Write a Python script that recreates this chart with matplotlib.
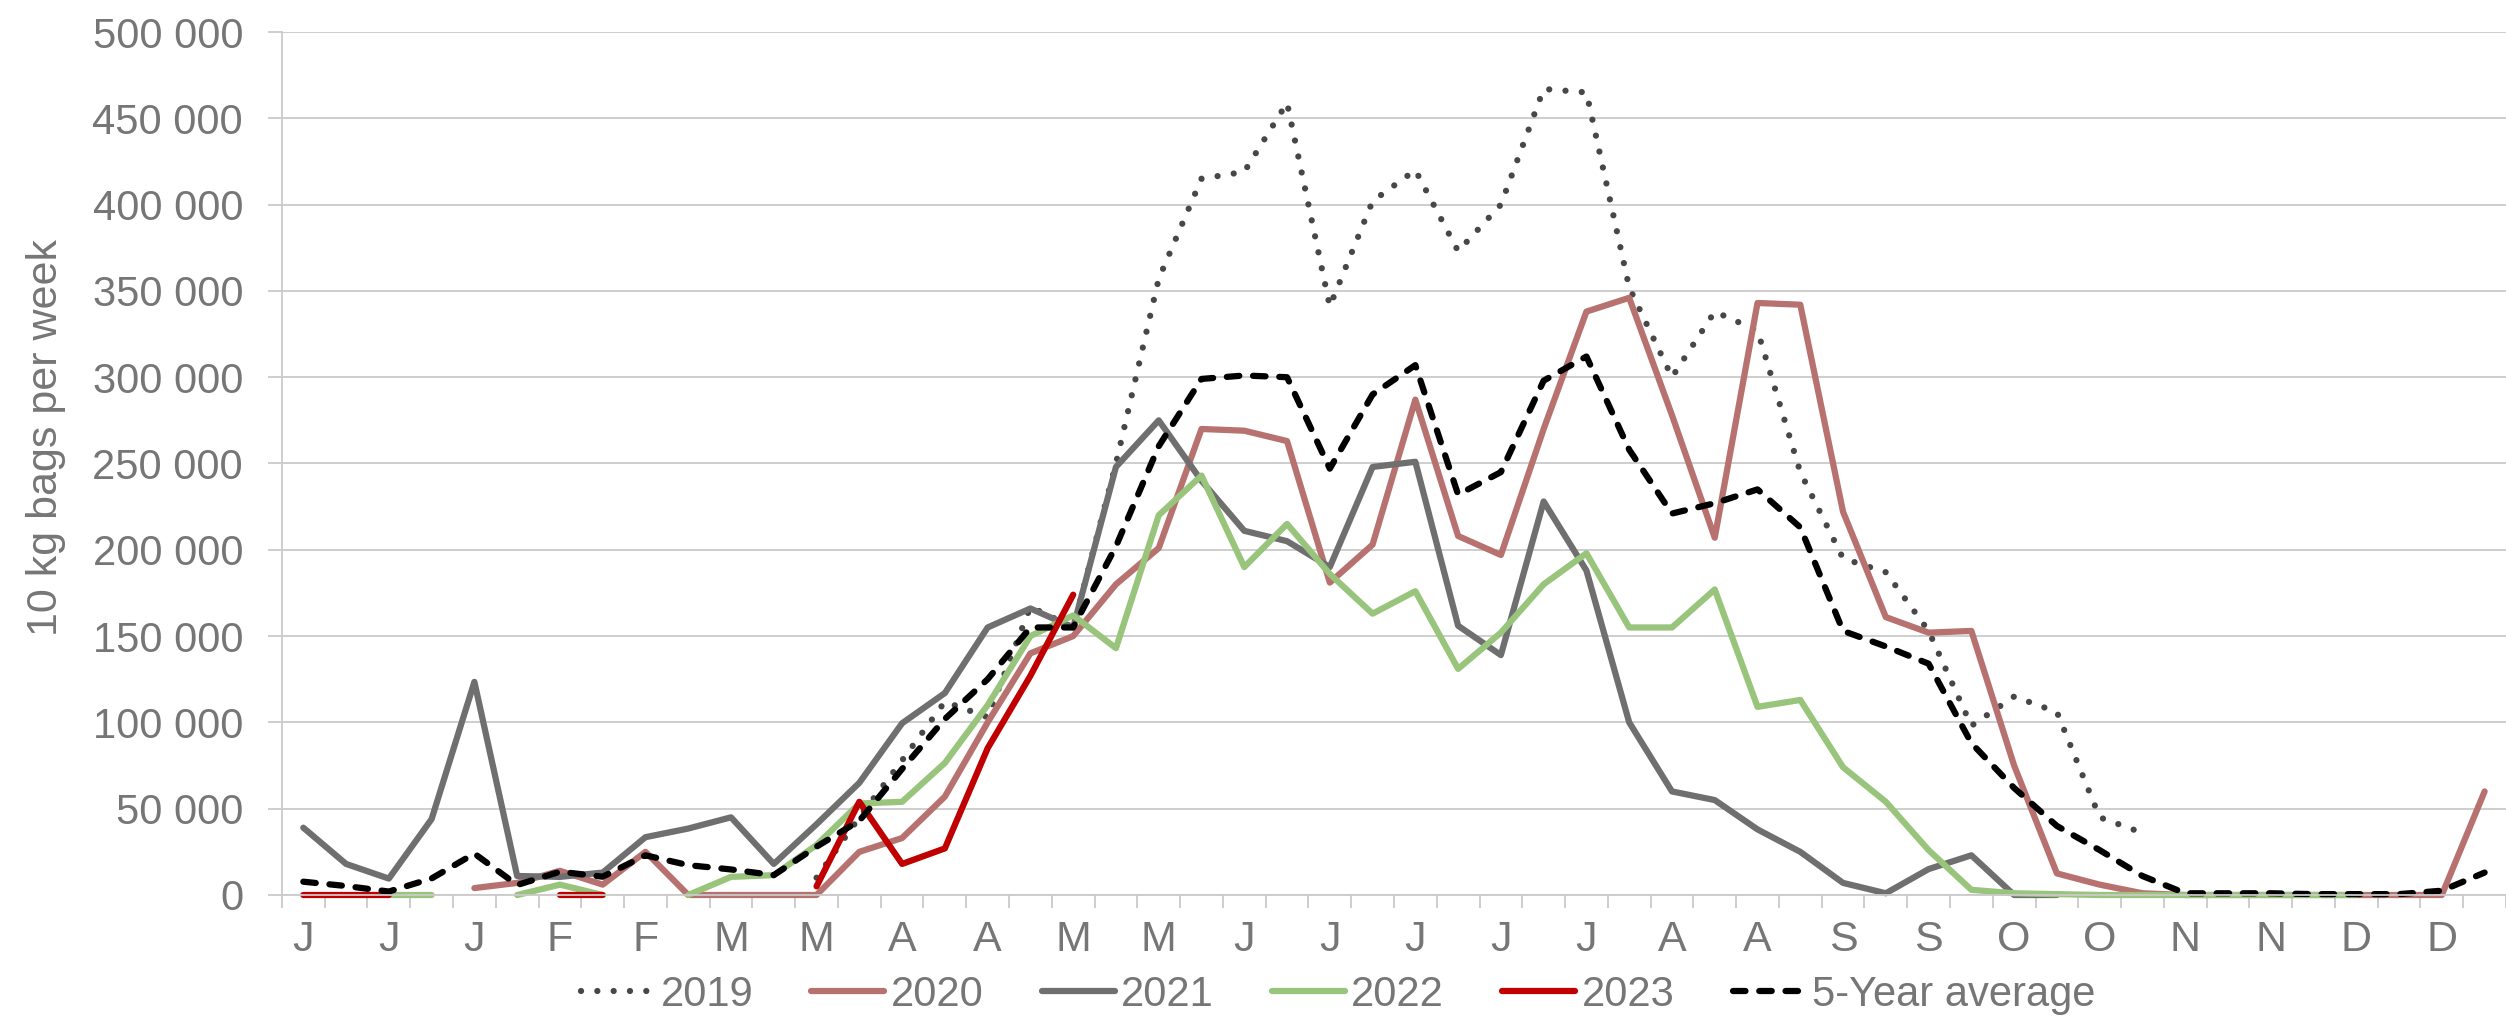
import numpy as np
import matplotlib
matplotlib.use("Agg")
import matplotlib.pyplot as plt
from matplotlib.ticker import FuncFormatter

plt.rcParams['font.family'] = ['Liberation Sans', 'DejaVu Sans']

# Week labels (first letter of the month, every second week)
week_labels = ['J', 'J', 'J', 'F', 'F', 'M', 'M', 'A', 'A', 'M', 'M', 'J', 'J',
               'J', 'J', 'J', 'A', 'A', 'S', 'S', 'O', 'O', 'N', 'N', 'D', 'D']

# Weekly volumes (10 kg bags), 52 weeks, None = no data
y2019 = [None, None, None, None, None, None, None, None, None, None, None, None,
         10000, 45000, 78000, 112000, 103000, 167000, 155000, 250000, 357000, 415000,
         419000, 459000, 341000, 402000, 420000, 373000, 400000, 467000, 465000, 352000,
         300000, 338000, 327000, 245000, 195000, 187000, 153000, 98000, 115000, 106000,
         45000, 36000, None, None, None, None, None, None, None, None]

y2020 = [None, None, None, None, 4000, 7000, 14000, 6000, 25000, 0, 0, 0,
         0, 25000, 33000, 57000, 100000, 140000, 150000, 180000, 201000, 270000,
         269000, 263000, 181000, 203000, 287000, 208000, 197000, 270000, 338000, 346000,
         278000, 207000, 343000, 342000, 222000, 161000, 152000, 153000, 75000, 12500,
         6000, 1000, 0, 0, 0, 0, 0, 0, 0, 60000]

y2021 = [39000, 18000, 9500, 44000, 123500, 11000, 10500, 13000, 33500, 38500, 45000, 18000,
         41000, 65000, 99500, 117000, 155000, 166000, 155000, 248000, 275000, 240000,
         211000, 205000, 190000, 248000, 251000, 156000, 139000, 228000, 188000, 100000,
         60000, 55000, 38000, 25000, 7000, 1000, 15000, 23000, 0, 0,
         None, None, None, None, None, None, None, None, None, None]

y2022 = [None, None, 0, 0, None, 0, 6000, 0, None, 0, 10500, 11500,
         29000, 53000, 54000, 76500, 110000, 150000, 162000, 143000, 220000, 243000,
         190000, 215000, 186000, 163000, 176000, 131000, 152000, 180000, 198000, 155000,
         155000, 177000, 109000, 113000, 74000, 54000, 26000, 3000, 1000, 500,
         0, 0, 0, 0, 0, 0, 0, None, None, None]

y2023 = [0, 0, 0, None, None, None, 0, 0, None, None, None, None,
         5000, 54000, 18000, 27000, 85000, 127000, 174000, None, None, None,
         None, None, None, None, None, None, None, None, None, None,
         None, None, None, None, None, None, None, None, None, None,
         None, None, None, None, None, None, None, None, None, None]

avg5 = [7700, 5200, 2000, 9600, 24000, 5800, 13500, 10600, 23000, 17300, 14800, 11500,
        28000, 43000, 73000, 102000, 125000, 155000, 155000, 202000, 260000, 299000,
        301000, 300000, 247000, 290000, 307000, 232000, 245000, 298000, 312000, 258000,
        221000, 227000, 235000, 213000, 153000, 144000, 134000, 88000, 62000, 40000,
        26000, 11000, 1000, 1000, 1000, 500, 500, 500, 2500, 13000]

weeks = np.arange(52)
grey_txt = '#767676'
grid_col = '#cacaca'

fig = plt.figure(figsize=(25.06, 10.16), dpi=100)
ax = fig.add_axes([0.1125, 0.1191, 0.8875, 0.8494])

lw = 4.5
solid = dict(lw=lw, solid_joinstyle='round', solid_capstyle='round', clip_on=False)
ax.plot(weeks, np.array(y2019, dtype=float), color='#474747', lw=lw,
        ls=(0, (0.01, 2.6)), dash_capstyle='round', label='2019', clip_on=False)
ax.plot(weeks, np.array(y2020, dtype=float), color='#b7716f', label='2020', **solid)
ax.plot(weeks, np.array(y2021, dtype=float), color='#6f6f6f', label='2021', **solid)
ax.plot(weeks, np.array(y2022, dtype=float), color='#98c47b', label='2022', **solid)
ax.plot(weeks, np.array(y2023, dtype=float), color='#c00000', label='2023', **solid)
ax.plot(weeks, np.array(avg5, dtype=float), color='black', lw=lw,
        ls=(0, (2.0, 2.2)), dash_capstyle='round', label='5-Year average', clip_on=False)

# Axes
ax.set_xlim(-0.5, 51.5)
ax.set_ylim(0, 500000)
ax.set_yticks(np.arange(0, 500001, 50000))
ax.yaxis.set_major_formatter(FuncFormatter(lambda v, p: f"{int(v):,}".replace(",", " ")))
ax.set_xticks(weeks[::2])
ax.set_xticklabels(week_labels)
ax.set_xticks(np.arange(-0.5, 52, 1), minor=True)

ax.yaxis.grid(True, color=grid_col, lw=1.3)
ax.set_axisbelow(True)
for s in ['top', 'right']:
    ax.spines[s].set_visible(False)
for s in ['left', 'bottom']:
    ax.spines[s].set_color(grid_col)
    ax.spines[s].set_linewidth(1.3)

ax.tick_params(axis='y', length=10, width=1.3, color=grid_col, pad=18,
               labelsize=30, labelcolor=grey_txt)
ax.tick_params(axis='x', which='major', length=0, pad=18, labelsize=31, labelcolor=grey_txt)
ax.tick_params(axis='x', which='minor', length=9.5, width=1.3, color=grid_col)

ax.set_ylabel('10 kg bags per week', fontsize=31, color=grey_txt)
ax.yaxis.set_label_coords(-0.097, 0.53)

fig.legend(loc='center', bbox_to_anchor=(0.534, 0.021), ncol=6, frameon=False,
           fontsize=30, handlelength=1.75, handletextpad=0.15, columnspacing=1.4,
           labelcolor=grey_txt)

fig.savefig('out.png', dpi=100)
